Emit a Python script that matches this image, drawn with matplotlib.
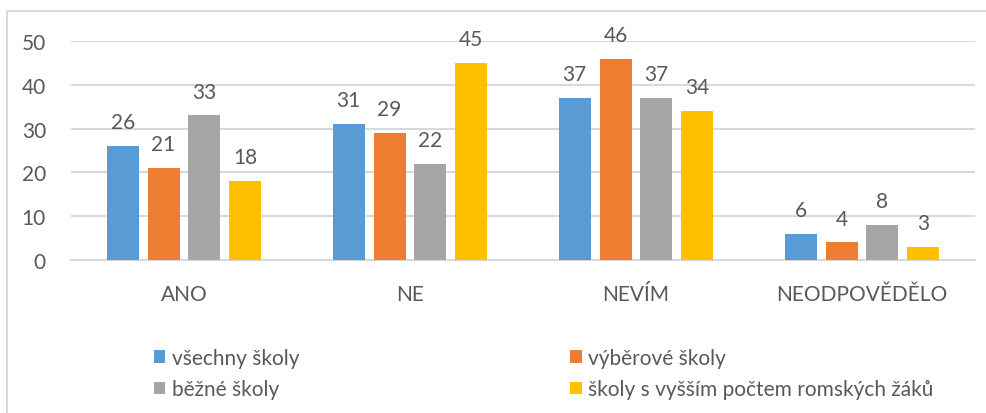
import matplotlib
matplotlib.use("Agg")
import matplotlib.pyplot as plt
from matplotlib.patches import Rectangle, Patch
import numpy as np

plt.rcParams['font.family'] = ['Lato', 'DejaVu Sans']

categories = ["ANO", "NE", "NEVÍM", "NEODPOVĚDĚLO"]
series_names = ["všechny školy", "výběrové školy", "běžné školy",
                "školy s vyšším počtem romských žáků"]
vsechny = [26, 31, 37, 6]
vyberove = [21, 29, 46, 4]
bezne = [33, 22, 37, 8]
romske = [18, 45, 34, 3]
series_values = [vsechny, vyberove, bezne, romske]
colors = ["#5B9BD5", "#ED7D31", "#A5A5A5", "#FFC000"]
y_ticks = [0, 10, 20, 30, 40, 50]

text_color = "#595959"
grid_color = "#D9D9D9"
fs = 15

fig = plt.figure(figsize=(9.87, 4.14), dpi=100)
ax = fig.add_axes([71 / 987, 1 - 261 / 414, (975 - 71) / 987, (261 - 42) / 414])

x = np.arange(len(categories))
step = 0.181
width = 0.1416
handles = []
for i, (name, vals, c) in enumerate(zip(series_names, series_values, colors)):
    pos = x + (i - 1.5) * step
    bars = ax.bar(pos, vals, width=width, color=c, zorder=3)
    for b, v in zip(bars, vals):
        ax.annotate(str(v), (b.get_x() + b.get_width() / 2, v),
                    xytext=(0, 10), textcoords="offset points",
                    ha="center", va="bottom", fontsize=fs, color=text_color)
    handles.append(Patch(facecolor=c, edgecolor="none", label=name))

ax.set_xlim(-0.5, 3.5)
ax.set_ylim(0, 50)
ax.set_yticks(y_ticks)
ax.set_xticks(x)
ax.set_xticklabels(categories)
ax.yaxis.grid(True, color=grid_color, linewidth=1.5, zorder=0)
ax.set_axisbelow(True)
for s in ["top", "right", "left"]:
    ax.spines[s].set_visible(False)
ax.spines["bottom"].set_color(grid_color)
ax.spines["bottom"].set_linewidth(1.5)
ax.tick_params(axis="both", length=0, labelsize=fs, colors=text_color)
ax.tick_params(axis="y", pad=18)
ax.tick_params(axis="x", pad=17)

order = [0, 2, 1, 3]
leg = fig.legend([handles[i] for i in order], [series_names[i] for i in order],
                 ncol=2, loc="upper left", bbox_to_anchor=(154 / 987, 1 - 349 / 414),
                 frameon=False, fontsize=fs, labelcolor=text_color,
                 handlelength=0.55, handleheight=0.55, handletextpad=0.3,
                 columnspacing=13.0, labelspacing=0.55, borderpad=0, borderaxespad=0)

fig.patches.append(Rectangle((7 / 987, -0.1), 1.2, 1 - 12 / 414 + 0.1,
                             transform=fig.transFigure, fill=False,
                             edgecolor=grid_color, linewidth=1.5))

fig.savefig("out.png", dpi=100)
